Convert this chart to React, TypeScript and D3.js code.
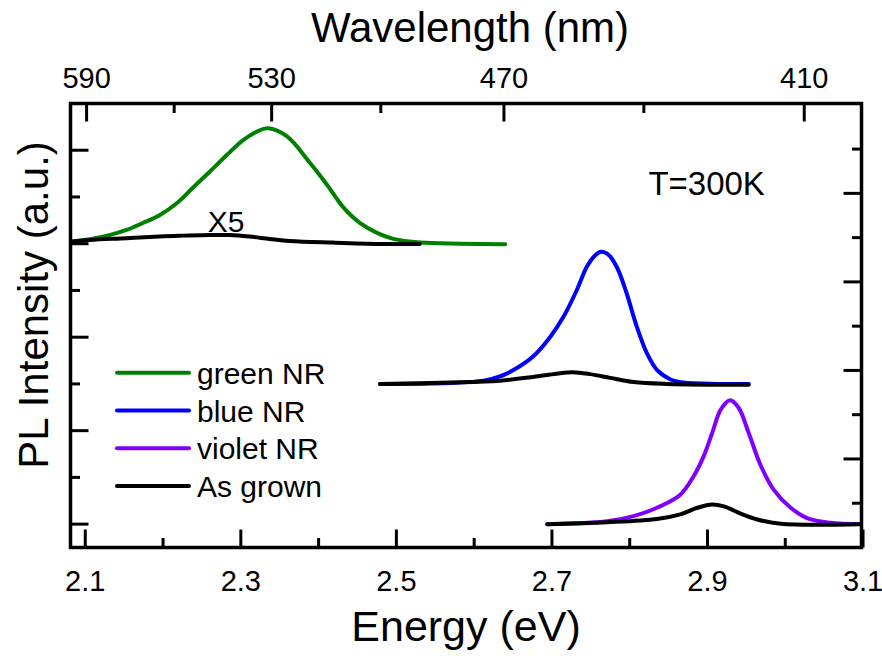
import React from 'react';
import * as d3 from 'd3';

// photon energy (eV) and PL intensity (a.u.); spectra drawn with a vertical offset
const greenE = [2.080, 2.106, 2.132, 2.153, 2.174, 2.196, 2.218, 2.238, 2.260, 2.282, 2.303, 2.325, 2.335, 2.359, 2.389, 2.411, 2.431, 2.453, 2.475, 2.496, 2.531, 2.582, 2.640];
const greenNR = [0.045, 0.096, 0.188, 0.295, 0.444, 0.615, 0.872, 1.192, 1.541, 1.897, 2.218, 2.432, 2.468, 2.300, 1.726, 1.256, 0.793, 0.444, 0.231, 0.103, 0.024, 0.0, -0.011];
// as grown, multiplied by 5
const grownGreenE = [2.080, 2.106, 2.153, 2.196, 2.226, 2.260, 2.286, 2.311, 2.337, 2.363, 2.418, 2.479, 2.530];
const grownGreen = [0.036, 0.081, 0.118, 0.156, 0.173, 0.188, 0.184, 0.152, 0.103, 0.060, 0.024, -0.004, -0.004];

const blueE = [2.479, 2.569, 2.612, 2.633, 2.655, 2.676, 2.698, 2.715, 2.732, 2.745, 2.756, 2.763, 2.773, 2.784, 2.796, 2.809, 2.822, 2.835, 2.852, 2.869, 2.912, 2.953];
const blueNR = [0.0, 0.02, 0.07, 0.16, 0.34, 0.59, 1.01, 1.44, 2.01, 2.51, 2.76, 2.83, 2.76, 2.48, 1.94, 1.23, 0.66, 0.30, 0.10, 0.03, 0.0, 0.0];
const grownBlueE = [2.479, 2.569, 2.633, 2.676, 2.706, 2.727, 2.749, 2.775, 2.805, 2.848, 2.953];
const grownBlue = [0.0, 0.03, 0.07, 0.15, 0.22, 0.25, 0.21, 0.13, 0.04, 0.0, -0.02];

const violetE = [2.694, 2.771, 2.805, 2.835, 2.865, 2.882, 2.895, 2.906, 2.917, 2.929, 2.940, 2.953, 2.968, 2.985, 3.007, 3.028, 3.058, 3.100];
const violetNR = [0.0, 0.06, 0.17, 0.35, 0.63, 1.02, 1.45, 1.95, 2.45, 2.65, 2.49, 1.95, 1.27, 0.74, 0.35, 0.13, 0.03, 0.0];
const grownVioletE = [2.694, 2.771, 2.835, 2.865, 2.887, 2.906, 2.921, 2.942, 2.964, 2.994, 3.097];
const grownViolet = [0.0, 0.04, 0.11, 0.21, 0.35, 0.42, 0.38, 0.23, 0.10, 0.01, 0.0];

const offsets = [6, 3, 0];
const energyTicks = [2.1, 2.2, 2.3, 2.4, 2.5, 2.6, 2.7, 2.8, 2.9, 3.0, 3.1];
const energyLabels = ['2.1', '2.3', '2.5', '2.7', '2.9', '3.1'];
const wavelengthTicks = [590, 560, 530, 500, 470, 440, 410];
const wavelengthLabels = [590, 530, 470, 410];
const leftTicks = [0, 1, 2, 3, 4, 5, 6, 7, 8];
const rightTicks = [1, 2, 3, 4, 5, 6, 7, 8, 9];

const legendNames = ['green NR', 'blue NR', 'violet NR', 'As grown'];
const colors = ['#008000', '#0000ff', '#8000ff', '#000000'];

const FONT = 'Arial, "Liberation Sans", sans-serif';

export default function App() {
  const width = 882;
  const height = 659;
  const m = { left: 70.5, right: 861.5, top: 103.5, bottom: 547.5 };

  const x = d3.scaleLinear().domain([2.081, 3.098]).range([m.left, m.right]);
  const y = d3.scaleLinear().domain([-0.5, 9.0]).range([m.bottom, m.top]);
  const yRight = d3.scaleLinear().domain([0, 10.03]).range([m.bottom, m.top]);

  const line = d3
    .line<[number, number]>()
    .x((d) => x(d[0]))
    .y((d) => y(d[1]))
    .curve(d3.curveCatmullRom.alpha(0.5));

  const pts = (es: number[], vs: number[], off: number) =>
    es.map((e, i) => [e, vs[i] + off] as [number, number]);

  const series = [
    { d: pts(greenE, greenNR, offsets[0]), c: colors[0] },
    { d: pts(grownGreenE, grownGreen, offsets[0]), c: colors[3] },
    { d: pts(blueE, blueNR, offsets[1]), c: colors[1] },
    { d: pts(grownBlueE, grownBlue, offsets[1]), c: colors[3] },
    { d: pts(violetE, violetNR, offsets[2]), c: colors[2] },
    { d: pts(grownVioletE, grownViolet, offsets[2]), c: colors[3] },
  ];

  const major = 18;
  const minor = 9.5;
  const isMajorE = (t: number) => Math.round(t * 10) % 2 === 1;

  return (
    <div>
      <style>{`body{margin:0}`}</style>
      <svg width={width} height={height} style={{ display: 'block', background: '#fff' }}>
        <defs>
          <clipPath id="plot">
            <rect x={m.left} y={m.top} width={m.right - m.left} height={m.bottom - m.top} />
          </clipPath>
        </defs>

        {/* spectra */}
        <g clipPath="url(#plot)" fill="none" strokeWidth={4} strokeLinejoin="round" strokeLinecap="round">
          {series.map((s, i) => (
            <path key={i} d={line(s.d) || ''} stroke={s.c} />
          ))}
        </g>

        {/* ticks */}
        <g stroke="#000" strokeWidth={3}>
          {energyTicks.map((t) => (
            <line key={'b' + t} x1={x(t)} x2={x(t)} y1={m.bottom} y2={m.bottom - (isMajorE(t) ? major : minor)} />
          ))}
          {wavelengthTicks.map((w) => (
            <line
              key={'t' + w}
              x1={x(1240 / w)}
              x2={x(1240 / w)}
              y1={m.top}
              y2={m.top + (wavelengthLabels.includes(w) ? major : minor)}
            />
          ))}
          {leftTicks.map((t) => (
            <line key={'l' + t} x1={m.left} x2={m.left + (t % 2 === 0 ? major : minor)} y1={y(t)} y2={y(t)} />
          ))}
          {rightTicks.map((t) => (
            <line key={'r' + t} x1={m.right} x2={m.right - (t % 2 === 0 ? major : minor)} y1={yRight(t)} y2={yRight(t)} />
          ))}
        </g>

        {/* frame */}
        <rect
          x={m.left}
          y={m.top}
          width={m.right - m.left}
          height={m.bottom - m.top}
          fill="none"
          stroke="#000"
          strokeWidth={3.5}
        />

        {/* tick labels */}
        <g fontFamily={FONT} fontSize={29} textAnchor="middle" fill="#000">
          {energyLabels.map((l) => (
            <text key={'bl' + l} x={x(+l)} y={591}>
              {l}
            </text>
          ))}
          {wavelengthLabels.map((w) => (
            <text key={'tl' + w} x={x(1240 / w)} y={88}>
              {w}
            </text>
          ))}
        </g>

        {/* axis titles */}
        <g fontFamily={FONT} fontSize={42} textAnchor="middle" fill="#000">
          <text x={466} y={641} fontSize={43}>Energy (eV)</text>
          <text x={470} y={42}>Wavelength (nm)</text>
          <text transform="translate(48,305) rotate(-90)">PL Intensity (a.u.)</text>
        </g>

        {/* annotations */}
        <text x={x(2.281)} y={y(6.24)} fontFamily={FONT} fontSize={30} textAnchor="middle">
          X5
        </text>
        <text x={x(2.824)} y={y(7.04)} fontFamily={FONT} fontSize={33}>
          T=300K
        </text>

        {/* legend */}
        <g fontFamily={FONT} fontSize={30}>
          {legendNames.map((n, i) => (
            <g key={n} transform={`translate(117,${372.7 + i * 37.8})`}>
              <line x1={0} x2={72} y1={0} y2={0} stroke={colors[i]} strokeWidth={4} strokeLinecap="round" />
              <text x={80} y={11}>
                {n}
              </text>
            </g>
          ))}
        </g>
      </svg>
    </div>
  );
}
